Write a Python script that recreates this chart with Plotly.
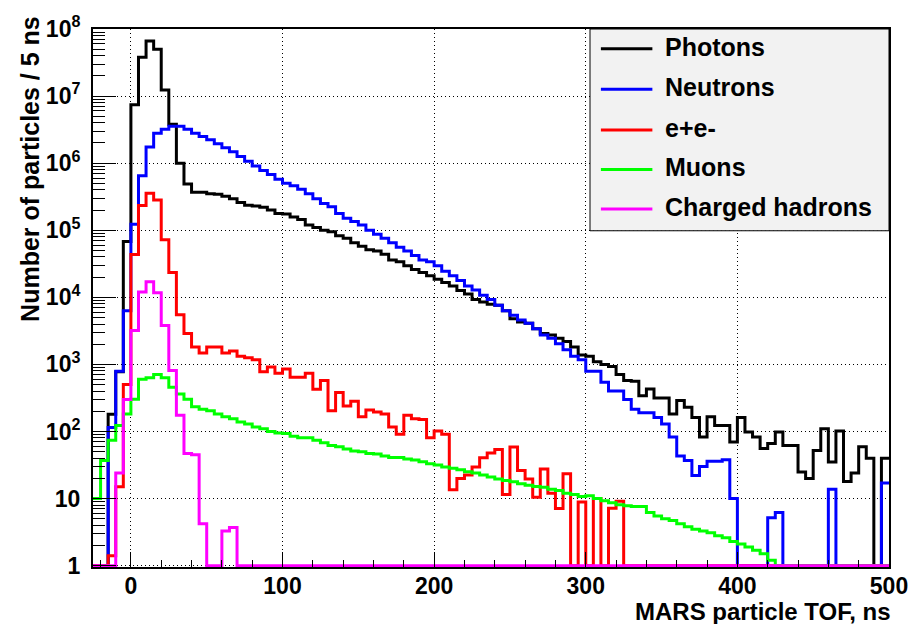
import plotly.graph_objects as go

# ---- data: 5 ns bins, low edges from -25 ns to 495 ns ----
bin_low_edges = list(range(-25, 500, 5))
BIN_WIDTH = 5

photons = [0, 0, 180, 780, 6.8e4, 7.4e6, 3.8e7, 6.6e7, 5.0e7, 1.23e7,
           3.8e6, 1.0e6, 4.9e5, 3.7e5, 3.7e5, 3.5e5, 3.45e5, 3.2e5, 2.95e5, 2.6e5,
           2.35e5, 2.3e5, 2.2e5, 2.0e5, 1.78e5, 1.74e5, 1.58e5, 1.45e5, 1.2e5, 1.1e5,
           1.0e5, 9.5e4, 8.3e4, 7.6e4, 6.5e4, 5.75e4, 5.1e4, 4.9e4, 4.4e4, 3.6e4,
           3.4e4, 2.95e4, 2.6e4, 2.35e4, 2.1e4, 1.86e4, 1.66e4, 1.48e4, 1.26e4, 1.12e4,
           9300, 8500, 7900, 7600, 6300, 4800, 4300, 4100, 3400, 2900,
           2750, 2450, 2200, 1820, 1380, 1320, 1100, 1000, 930, 710,
           575, 560, 340, 430, 316, 316, 182, 290, 230, 162,
           83, 166, 123, 123, 70, 162, 98, 83, 56, 66,
           98, 62, 62, 25, 20, 52, 110, 35, 102, 18,
           24, 59, 40, 0, 40]

neutrons = [0, 0, 115, 790, 6300, 1.23e5, 6.5e5, 1.74e6, 2.8e6, 3.2e6,
            3.55e6, 3.55e6, 3.2e6, 2.8e6, 2.5e6, 2.24e6, 1.95e6, 1.7e6, 1.48e6, 1.26e6,
            1.07e6, 9.1e5, 7.8e5, 6.8e5, 5.75e5, 5.0e5, 4.6e5, 4.1e5, 3.5e5, 2.95e5,
            2.5e5, 2.24e5, 1.78e5, 1.51e5, 1.35e5, 1.2e5, 1.0e5, 8.7e4, 7.6e4, 6.5e4,
            5.6e4, 4.9e4, 4.2e4, 3.6e4, 3.4e4, 2.95e4, 2.45e4, 2.1e4, 1.78e4, 1.48e4,
            1.29e4, 1.07e4, 9300, 7600, 6300, 5400, 4600, 4100, 3400, 2750,
            2450, 2040, 1660, 1320, 1170, 790, 790, 540, 400, 400,
            300, 214, 190, 190, 162, 129, 83, 43, 37, 22,
            30, 36, 36, 38, 10, 0, 0, 0, 0, 5.2,
            6.2, 0, 0, 0, 0, 0, 0, 13.8, 0, 0,
            0, 0, 0, 0, 17]

electrons = [0, 0, 1.4, 15, 500, 43600, 234000, 355000, 282000, 72400,
             23400, 5500, 2880, 1820, 1480, 1820, 1820, 1480, 1580, 1320,
             1260, 1170, 776, 912, 741, 851, 646, 646, 741, 427,
             575, 204, 380, 240, 282, 166, 209, 195, 182, 117,
             91, 174, 155, 151, 81, 102, 91, 13.5, 20, 22.4,
             29.5, 40.7, 47.9, 53.7, 11.5, 58.9, 26.3, 19.5, 10.5, 27.5,
             12, 7.1, 23.4, 0, 8.9, 0, 10, 0, 7.2, 9.1,
             0, 0, 0, 0, 0, 0, 0, 0, 0, 0,
             0, 0, 0, 0, 0, 0, 0, 0, 0, 0,
             0, 0, 0, 0, 0, 0, 0, 0, 0, 0,
             0, 0, 0, 0, 0]

muons = [10, 37, 74, 123, 182, 302, 603, 631, 708, 631,
         457, 363, 302, 234, 214, 204, 182, 166, 155, 138,
         129, 117, 110, 100, 95, 93, 85, 81, 81, 74,
         68, 62, 59, 55, 51, 50, 47, 46, 43, 41,
         41, 39, 37.6, 35.5, 33, 31.6, 29.5, 28.2, 26.9, 25.1,
         24, 22.4, 20.9, 19.5, 18.6, 17.8, 16.6, 15.8, 15.1, 14.8,
         13.8, 13.2, 12.0, 11.5, 10.7, 11.0, 10.0, 9.3, 8.7, 8.1,
         7.8, 7.6, 7.6, 6.2, 5.5, 5.0, 4.7, 4.2, 3.8, 3.5,
         3.3, 3.1, 2.8, 2.6, 2.3, 2.1, 1.9, 1.7, 1.5, 1.2,
         0, 0, 0, 0, 0, 0, 0, 0, 0, 0,
         0, 0, 0, 0, 0]

hadrons = [0, 0, 0, 24, 300, 3200, 12000, 17000, 11700, 3800,
           810, 174, 47, 45, 4.2, 0, 0, 3.3, 3.7, 0,
           0, 0, 0, 0, 0, 0, 0, 0, 0, 0,
           0, 0, 0, 0, 0, 0, 0, 0, 0, 0,
           0, 0, 0, 0, 0, 0, 0, 0, 0, 0,
           0, 0, 0, 0, 0, 0, 0, 0, 0, 0,
           0, 0, 0, 0, 0, 0, 0, 0, 0, 0,
           0, 0, 0, 0, 0, 0, 0, 0, 0, 0,
           0, 0, 0, 0, 0, 0, 0, 0, 0, 0,
           0, 0, 0, 0, 0, 0, 0, 0, 0, 0,
           0, 0, 0, 0, 0]

series_names = ["Photons", "Neutrons", "e+e-", "Muons", "Charged hadrons"]
series_values = [photons, neutrons, electrons, muons, hadrons]
series_colors = ["#000000", "#0000ff", "#ff0000", "#00ff00", "#ff00ff"]

x_major_ticks = [0, 100, 200, 300, 400, 500]
y_major_ticks = [1, 10, 1e2, 1e3, 1e4, 1e5, 1e6, 1e7, 1e8]
y_tick_text = ["1", "10", "10<sup>2</sup>", "10<sup>3</sup>", "10<sup>4</sup>",
               "10<sup>5</sup>", "10<sup>6</sup>", "10<sup>7</sup>", "10<sup>8</sup>"]

FONT = "Liberation Sans, Arial, Helvetica, sans-serif"
FLOOR = 1.0  # empty bins are drawn on the axis floor (log scale)

edges = bin_low_edges + [bin_low_edges[-1] + BIN_WIDTH]

fig = go.Figure()
for name, vals, col in zip(series_names, series_values, series_colors):
    y = [v if v > 0 else FLOOR for v in vals]
    y = y + [y[-1]]
    fig.add_trace(go.Scatter(x=edges, y=y, mode="lines", name=name,
                             line=dict(color=col, width=3, shape="hv"),
                             showlegend=False, hoverinfo="skip"))

x_minor = [v for v in range(-20, 500, 20) if v % 100 != 0]
y_minor = [k * 10 ** n for n in range(0, 8) for k in range(2, 10)]

fig.update_layout(
    width=920, height=624,
    margin=dict(l=93, r=23, t=23, b=57),
    paper_bgcolor="white", plot_bgcolor="white",
    font=dict(family=FONT, color="black"),
    xaxis=dict(range=[-25, 500], tickmode="array", tickvals=x_major_ticks,
               ticks="inside", ticklen=15, tickwidth=1, tickcolor="black",
               showline=True, linecolor="black", linewidth=2, mirror=True,
               showgrid=True, gridcolor="black", gridwidth=1, griddash="1px,3px",
               zeroline=False, ticklabelstandoff=-3,
               tickfont=dict(family=FONT, size=23, weight="bold", color="black"),
               minor=dict(tickmode="array", tickvals=x_minor, ticks="inside",
                          ticklen=7, tickwidth=1, tickcolor="black", showgrid=False)),
    yaxis=dict(type="log", range=[-0.02, 8], tickmode="array",
               tickvals=y_major_ticks, ticktext=y_tick_text,
               ticks="inside", ticklen=23, tickwidth=1, tickcolor="black",
               showline=True, linecolor="black", linewidth=2, mirror=True,
               showgrid=True, gridcolor="black", gridwidth=1, griddash="1px,3px",
               zeroline=False, ticklabelstandoff=6,
               tickfont=dict(family=FONT, size=23, weight="bold", color="black"),
               minor=dict(tickmode="array", tickvals=y_minor, ticks="inside",
                          ticklen=12, tickwidth=1, tickcolor="black", showgrid=False)),
)

# axis titles
fig.add_annotation(text="MARS particle TOF, ns", xref="paper", yref="paper",
                   x=1, y=0, xanchor="right", yanchor="bottom", yshift=-59, xshift=3,
                   borderpad=0, showarrow=False,
                   font=dict(family=FONT, size=24, weight="bold", color="black"))
fig.add_annotation(text="Number of particles / 5 ns", xref="paper", yref="paper",
                   x=0, y=0.74, xanchor="center", yanchor="middle", xshift=-63,
                   textangle=-90, showarrow=False,
                   font=dict(family=FONT, size=25, weight="bold", color="black"))

# legend box (drawn manually, ROOT TLegend style)
PW, PH, L, T = 804, 544, 93, 23
def px2x(px):
    return (px - L) / PW
def py2y(py):
    return 1 - (py - T) / PH

fig.add_shape(type="rect", xref="paper", yref="paper",
              x0=px2x(595), x1=1, y0=py2y(227), y1=1,
              fillcolor="#f2f2f2", line=dict(color="black", width=1), layer="above")
row_y = [43, 84, 125, 165, 205]
for name, col, ry in zip(series_names, series_colors, row_y):
    fig.add_shape(type="line", xref="paper", yref="paper",
                  x0=px2x(606), x1=px2x(658), y0=py2y(ry), y1=py2y(ry),
                  line=dict(color=col, width=3), layer="above")
    fig.add_annotation(text=name, xref="paper", yref="paper",
                       x=px2x(669), y=py2y(ry - 2), xanchor="left", yanchor="middle",
                       showarrow=False,
                       font=dict(family=FONT, size=25, weight="bold", color="black"))

fig.write_html("out.html")
